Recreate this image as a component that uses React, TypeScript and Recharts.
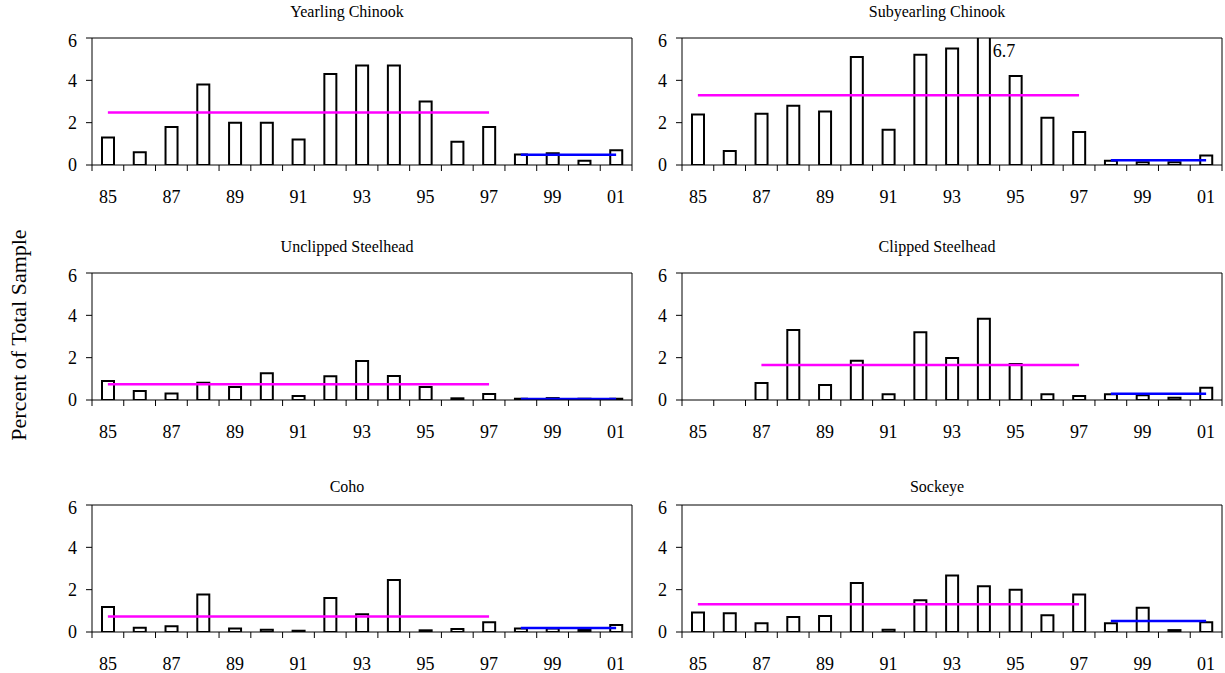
import React from 'react';
import { ComposedChart, Bar, Line, XAxis, YAxis, ReferenceLine, ReferenceDot } from 'recharts';

const years = ['85', '86', '87', '88', '89', '90', '91', '92', '93', '94', '95', '96', '97', '98', '99', '00', '01'];
const yTicks = [0, 2, 4, 6];

const yearlingChinook = [1.3, 0.6, 1.8, 3.8, 2.0, 2.0, 1.2, 4.3, 4.7, 4.7, 3.0, 1.1, 1.8, 0.5, 0.55, 0.2, 0.7];
const subyearlingChinook = [2.39, 0.66, 2.42, 2.8, 2.53, 5.1, 1.66, 5.21, 5.5, 6.7, 4.2, 2.23, 1.56, 0.2, 0.13, 0.13, 0.45];
const unclippedSteelhead = [0.9, 0.43, 0.31, 0.82, 0.61, 1.26, 0.19, 1.12, 1.84, 1.13, 0.61, 0.08, 0.28, 0.06, 0.09, 0.06, 0.06];
const clippedSteelhead = [null, null, 0.8, 3.31, 0.71, 1.86, 0.27, 3.2, 1.98, 3.84, 1.7, 0.27, 0.19, 0.27, 0.22, 0.11, 0.58];
const coho = [1.18, 0.2, 0.27, 1.77, 0.17, 0.11, 0.06, 1.61, 0.84, 2.46, 0.08, 0.14, 0.46, 0.16, 0.17, 0.1, 0.33];
const sockeye = [0.92, 0.88, 0.41, 0.71, 0.76, 2.32, 0.11, 1.5, 2.67, 2.16, 2.0, 0.79, 1.77, 0.41, 1.14, 0.09, 0.46];

// mean lines: first year-97 in magenta, 98-01 in blue
const earlyMeans = [2.48, 3.3, 0.74, 1.65, 0.73, 1.31];
const lateMeans = [0.49, 0.23, 0.05, 0.3, 0.19, 0.52];
const earlyFrom = ['85', '85', '85', '87', '85', '85'];
const lastEarly = '97';

const titles = ['Yearling Chinook', 'Subyearling Chinook', 'Unclipped Steelhead', 'Clipped Steelhead', 'Coho', 'Sockeye'];
const seriesList = [yearlingChinook, subyearlingChinook, unclippedSteelhead, clippedSteelhead, coho, sockeye];
const notes: ({ year: string; y: number; text: string } | null)[] = [null, { year: '94', y: 5.4, text: '6.7' }, null, null, null, null];

const FONT = "'Liberation Serif', 'Times New Roman', serif";
const PLOT_W = 540;
const PLOT_H = 127;
const AXIS_W = 40;
const AXIS_H = 44;
const PAD_TOP = 8;
const colLefts = [92, 682];
const rowTops = [38, 273, 505];
const titleGaps = [26, 26, 18];

function buildRows(values: (number | null)[], early: number, from: string, late: number) {
  const start = years.indexOf(from);
  const end = years.indexOf(lastEarly);
  return years.map((year, i) => ({
    year,
    value: values[i],
    early: i >= start && i <= end ? early : null,
    late: i > end ? late : null,
  }));
}

const halfBand = PLOT_W / years.length / 2;

const YearTick = (props: any) => {
  const { x, y, payload, index } = props;
  return (
    <g>
      <line x1={x - halfBand} x2={x - halfBand} y1={y} y2={y + 6} stroke="#000" />
      {index === years.length - 1 && <line x1={x + halfBand} x2={x + halfBand} y1={y} y2={y + 6} stroke="#000" />}
      {index % 2 === 0 && (
        <text x={x} y={y + 38} textAnchor="middle" fontSize={18} fontFamily={FONT} fill="#000">
          {payload.value}
        </text>
      )}
    </g>
  );
};

function Panel({ idx }: { idx: number }) {
  const values = seriesList[idx];
  const rows = buildRows(values, earlyMeans[idx], earlyFrom[idx], lateMeans[idx]);
  const left = colLefts[idx % 2];
  const row = Math.floor(idx / 2);
  const top = rowTops[row];
  const note = notes[idx];
  const first = years[0];
  const last = years[years.length - 1];
  return (
    <>
      <div
        style={{
          position: 'absolute',
          left: left - 30,
          width: PLOT_W + 30,
          top: top - titleGaps[row] - 10,
          textAlign: 'center',
          fontFamily: FONT,
          fontSize: 16,
          lineHeight: '20px',
        }}
      >
        {titles[idx]}
      </div>
      <div style={{ position: 'absolute', left: left - AXIS_W, top: top - PAD_TOP }}>
        <ComposedChart
          width={AXIS_W + PLOT_W + 4}
          height={PAD_TOP + PLOT_H + AXIS_H}
          data={rows}
          margin={{ top: PAD_TOP, right: 4, bottom: 0, left: 0 }}
        >
          <XAxis
            dataKey="year"
            interval={0}
            height={AXIS_H}
            tickSize={0}
            tickMargin={0}
            tickLine={false}
            axisLine={{ stroke: '#000' }}
            tick={<YearTick />}
          />
          {/* the 6.7 bar is cut at the top of the frame, its value is written beside it */}
          <YAxis
            type="number"
            domain={[0, 6]}
            allowDataOverflow
            ticks={yTicks}
            width={AXIS_W}
            axisLine={{ stroke: '#000' }}
            tickLine={{ stroke: '#000' }}
            tickSize={6}
            tickMargin={9}
            tick={{ fontSize: 18, fontFamily: FONT, fill: '#000' }}
          />
          <ReferenceLine y={6} stroke="#000" ifOverflow="visible" />
          <ReferenceLine
            segment={[{ x: last, y: 0 }, { x: last, y: 6 }]}
            position="end"
            stroke="#000"
            ifOverflow="visible"
          />
          <Bar dataKey="value" fill="#fff" stroke="#000" strokeWidth={2} barSize={12} isAnimationActive={false} />
          <Line dataKey="early" stroke="#ff00ff" strokeWidth={2.5} dot={false} activeDot={false} isAnimationActive={false} />
          <Line dataKey="late" stroke="#0000ff" strokeWidth={2.5} dot={false} activeDot={false} isAnimationActive={false} />
          {note && (
            <ReferenceDot
              x={note.year}
              y={note.y}
              r={1}
              fill="none"
              stroke="none"
              label={{ value: note.text, position: 'right', offset: 8, fontSize: 18, fontFamily: FONT, fill: '#000' }}
            />
          )}
        </ComposedChart>
      </div>
    </>
  );
}

export default function App() {
  return (
    <div style={{ position: 'absolute', left: 0, top: 0, width: 1225, height: 673, background: '#fff' }}>
      <div
        style={{
          position: 'absolute',
          left: 19,
          top: 335,
          transform: 'translate(-50%, -50%) rotate(-90deg)',
          whiteSpace: 'nowrap',
          fontFamily: FONT,
          fontSize: 22,
        }}
      >
        Percent of Total Sample
      </div>
      {titles.map((_, i) => (
        <Panel key={i} idx={i} />
      ))}
    </div>
  );
}
